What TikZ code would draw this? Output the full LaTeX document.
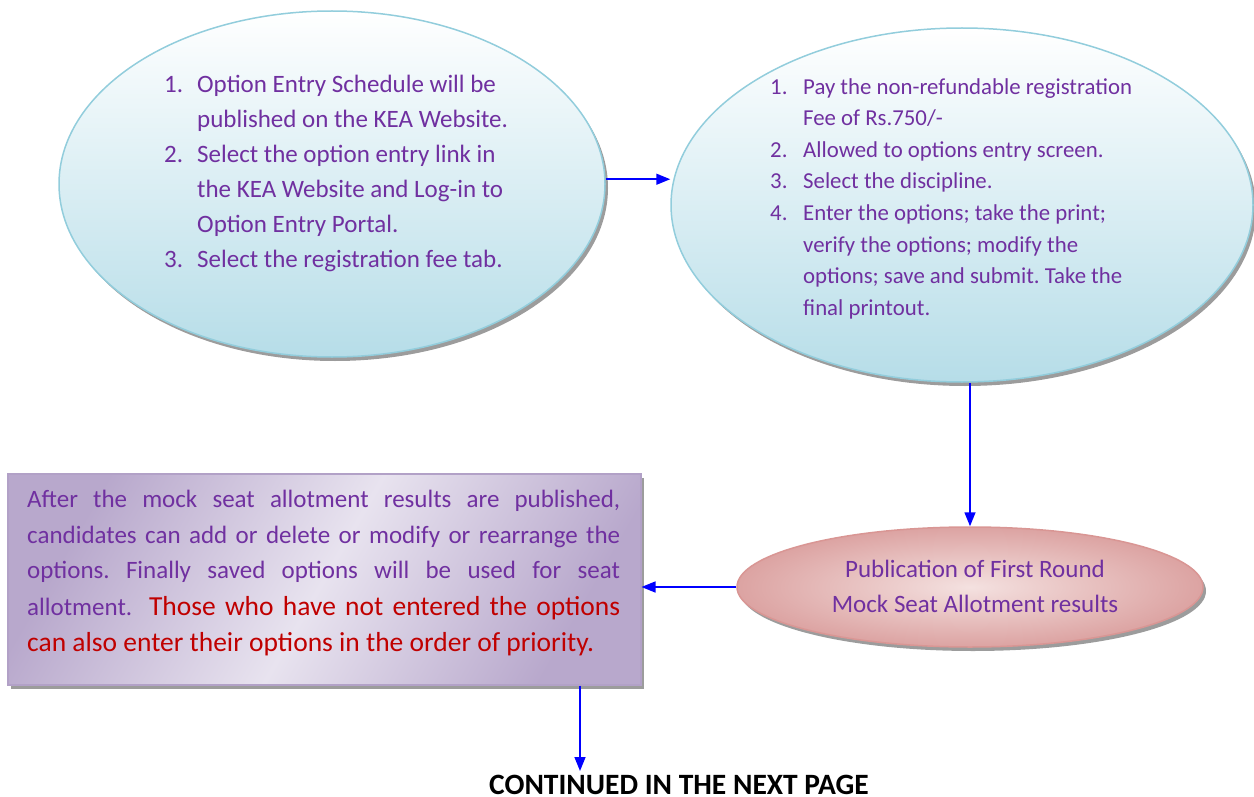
\documentclass[tikz,border=0pt]{standalone}
\usepackage{fontspec}
\setmainfont{Carlito}
\usetikzlibrary{shapes.geometric,arrows.meta,shadows,calc}
\definecolor{txtpurple}{HTML}{7030A0}
\definecolor{txtred}{HTML}{C00000}
\definecolor{arrblue}{HTML}{0000FF}
\definecolor{blueedge}{HTML}{92CDDC}
\definecolor{bluefill}{HTML}{B6DDE8}
\definecolor{pinkedge}{HTML}{D99694}
\definecolor{pinklight}{HTML}{F4E1E0}
\definecolor{pinkdark}{HTML}{DCA3A2}
\definecolor{purpedge}{HTML}{B8A8CC}
\definecolor{purpline}{HTML}{B2A1C7}
\definecolor{purplight}{HTML}{E8E3EF}
\definecolor{shadowgray}{HTML}{9C9C9C}
\newcommand{\numitem}[1]{\makebox[33pt][l]{#1}}
\newcommand{\contline}{\hspace*{33pt}}
\frenchspacing
\begin{document}
\begin{tikzpicture}[x=1pt,y=-1pt,
  shadowed/.style={drop shadow={shadow xshift=3pt,shadow yshift=-4pt,fill=shadowgray,opacity=1}},
  blueell/.style={ellipse, inner sep=0pt, draw=blueedge, line width=1.5pt,
    top color=white, bottom color=bluefill, shadowed},
  pinkell/.style={ellipse, inner sep=0pt, draw=pinkedge, line width=1.5pt,
    inner color=pinklight, outer color=pinkdark, shadowed},
  purpbox/.style={rectangle, inner sep=0pt, draw=purpline, line width=2pt,
    left color=purpedge, right color=purpedge, middle color=purplight, shading angle=60, shadowed},
  listtext/.style={inner sep=0pt, align=left, text=txtpurple},
  arr/.style={draw=arrblue, line width=1.5pt, -{Triangle[length=14pt,width=11pt]}}
]
\useasboundingbox (0,0) rectangle (1254,797);

% shapes
\node[blueell, minimum width=546pt, minimum height=346pt] (e1) at (332,184) {};
\node[blueell, minimum width=582pt, minimum height=354pt] (e2) at (962,205) {};
\node[pinkell, minimum width=466pt, minimum height=120pt] (pink) at (970,587) {};
\node[purpbox, minimum width=633pt, minimum height=211pt] (box) at (324,579) {};

% texts
\node[listtext, anchor=north west, font=\fontsize{25}{35}\selectfont] (t1) at (164,75) {%
\numitem{1.}Option Entry Schedule will be\\
\contline published on the KEA Website.\\
\numitem{2.}Select the option entry link in\\
\contline the KEA Website and Log-in to\\
\contline Option Entry Portal.\\
\numitem{3.}Select the registration fee tab.};

\node[listtext, anchor=north west, font=\fontsize{22.8}{31.6}\selectfont] (t2) at (770,78) {%
\numitem{1.}Pay the non-refundable registration\\
\contline Fee of Rs.750/-\\
\numitem{2.}Allowed to options entry screen.\\
\numitem{3.}Select the discipline.\\
\numitem{4.}Enter the options; take the print;\\
\contline verify the options; modify the\\
\contline options; save and submit. Take the\\
\contline final printout.};

\node[inner sep=0pt, align=center, text=txtpurple, font=\fontsize{25}{35}\selectfont] (t3) at (975,586) {%
Publication of First Round\\Mock Seat Allotment results};

\node[inner sep=0pt, anchor=north west, align=left, text=txtpurple, font=\fontsize{25}{35.5}\selectfont] (t4) at (27,490) {%
\makebox[593pt][s]{After the mock seat allotment results are published,}\\
\makebox[593pt][s]{candidates can add or delete or modify or rearrange the}\\
\makebox[593pt][s]{options. Finally saved options will be used for seat}\\[1pt]
\makebox[593pt][s]{allotment.\ \ {\color{txtred}\fontsize{27.5}{38}\selectfont Those who have not entered the options}}\\[1pt]
{\color{txtred}\fontsize{27.5}{38}\selectfont can also enter their options in the order of priority.}};

\coordinate (cont) at (580,771);
\node[inner sep=0pt, anchor=base, font=\fontsize{29.5}{34}\selectfont\bfseries] (t5) at (679,794.5) {CONTINUED IN THE NEXT PAGE};

% connectors
\draw[arr] (e1.1) -- (e1.1 -| e2.west);
\draw[arr] (e2.south -| pink.north) -- (pink.north);
\draw[arr] (pink.west) -- (pink.west -| box.east);
\draw[arr] (box.south -| cont) -- (cont);
\end{tikzpicture}
\end{document}
